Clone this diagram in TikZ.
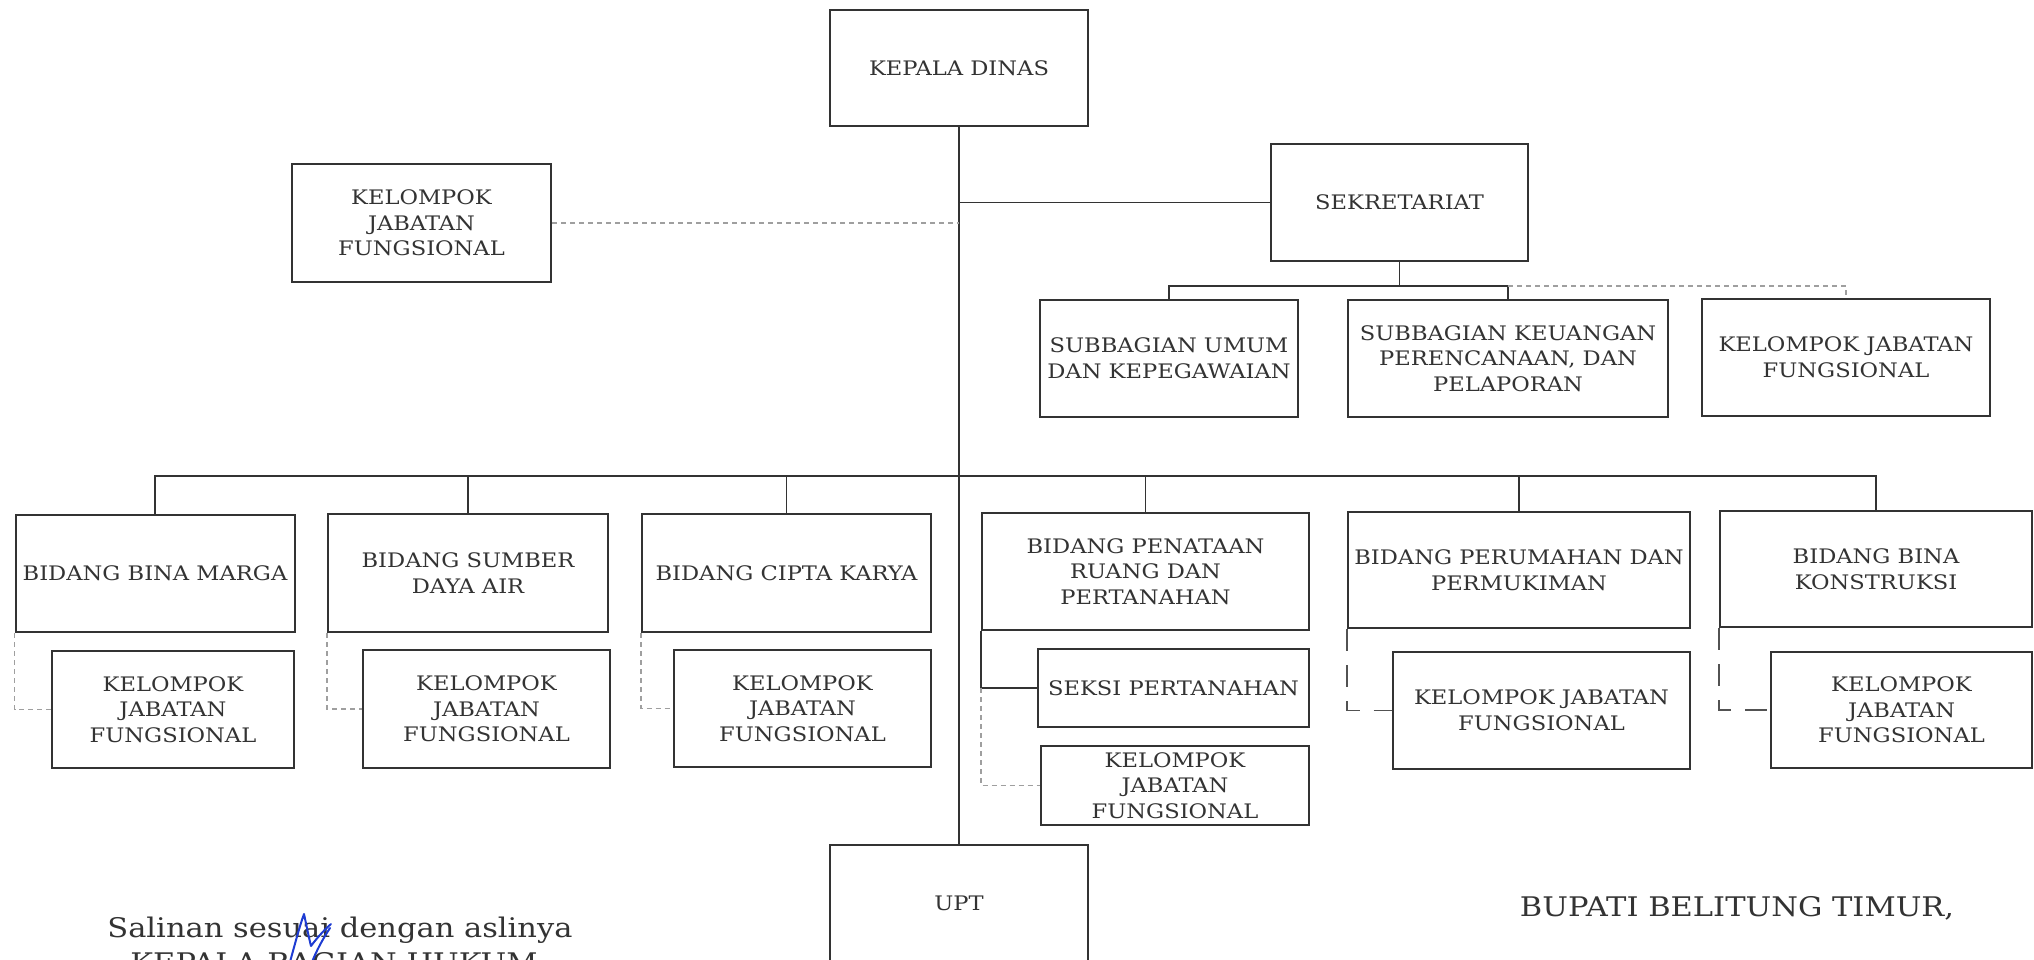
\documentclass[tikz,border=0pt]{standalone}
\usepackage{fontspec}
\setmainfont{DejaVu Serif}[FakeStretch=1.13]
\definecolor{ink}{gray}{0.2}
\definecolor{sigblue}{RGB}{30,60,210}
\begin{document}
\begin{tikzpicture}[x=0.5pt,y=-0.5pt,
  box/.style={draw=ink,line width=1pt,inner sep=0pt,align=center,text=ink,font=\fontsize{10}{12.8}\selectfont},
  lbl/.style={text=ink,inner sep=0pt,font=\fontsize{10}{12.8}\selectfont},
  conn/.style={draw=ink,line width=0.75pt},
  dsh/.style={draw=gray!75,line width=0.6pt,dash pattern=on 2.5pt off 2pt},
  ldsh/.style={draw=ink!85,line width=0.75pt,dash pattern=on 11pt off 7pt},
  big/.style={text=ink,inner sep=0pt,anchor=base,font=\fontsize{13.5}{16}\selectfont},
  sig/.style={draw=sigblue,line width=1pt,line cap=round,line join=round}]
\useasboundingbox (0,0) rectangle (2034,959);
\clip (0,0) rectangle (2034,959);

% top level
\node[box,minimum width=129pt,minimum height=58pt] (kd) at (959,68) {KEPALA DINAS};
\node[box,minimum width=129.5pt,minimum height=59pt] (kjf0) at (421.5,223) {KELOMPOK\\JABATAN\\FUNGSIONAL};
\node[box,minimum width=128.5pt,minimum height=58.5pt] (sek) at (1399.5,202.5) {SEKRETARIAT};

% sekretariat children
\node[box,minimum width=129pt,minimum height=58.5pt] (sbu) at (1169,358.5) {SUBBAGIAN UMUM\\DAN KEPEGAWAIAN};
\node[box,minimum width=160pt,minimum height=58.5pt] (sbk) at (1508,358.5) {SUBBAGIAN KEUANGAN\\PERENCANAAN, DAN\\PELAPORAN};
\node[box,minimum width=144pt,minimum height=58.5pt] (kjfs) at (1846,357.5) {KELOMPOK JABATAN\\FUNGSIONAL};

% bidang row
\node[box,minimum width=139.5pt,minimum height=58.5pt] (bm) at (155,573.5) {BIDANG BINA MARGA};
\node[box,minimum width=140pt,minimum height=59pt] (sda) at (468,573) {BIDANG SUMBER\\DAYA AIR};
\node[box,minimum width=144.5pt,minimum height=59pt] (ck) at (786.5,573) {BIDANG CIPTA KARYA};
\node[box,minimum width=163.5pt,minimum height=58.5pt] (prt) at (1145.5,571.5) {BIDANG PENATAAN\\RUANG DAN\\PERTANAHAN};
\node[box,minimum width=171pt,minimum height=58pt] (prm) at (1519,570) {BIDANG PERUMAHAN DAN\\PERMUKIMAN};
\node[box,minimum width=156pt,minimum height=58pt] (bk) at (1876,569) {BIDANG BINA\\KONSTRUKSI};

% lower row
\node[box,minimum width=121pt,minimum height=58.5pt] (kjf1) at (173,709.5) {KELOMPOK\\JABATAN\\FUNGSIONAL};
\node[box,minimum width=123.5pt,minimum height=59pt] (kjf2) at (486.5,709) {KELOMPOK\\JABATAN\\FUNGSIONAL};
\node[box,minimum width=128.5pt,minimum height=58.5pt] (kjf3) at (802.5,708.5) {KELOMPOK\\JABATAN\\FUNGSIONAL};
\node[box,minimum width=135.5pt,minimum height=39pt] (sp) at (1173.5,688) {SEKSI PERTANAHAN};
\node[box,minimum width=134pt,minimum height=39.5pt] (kjfp) at (1175,785.5) {KELOMPOK\\JABATAN\\FUNGSIONAL};
\node[box,minimum width=148.5pt,minimum height=58.5pt] (kjfm) at (1541.5,710.5) {KELOMPOK JABATAN\\FUNGSIONAL};
\node[box,minimum width=130.5pt,minimum height=58pt] (kjfk) at (1901.5,710) {KELOMPOK\\JABATAN\\FUNGSIONAL};

% UPT
\node[box,minimum width=129pt,minimum height=70pt,anchor=north] (upt) at (959,844) {};
\node[lbl] (uptl) at (959,903) {UPT};

% connectors
\draw[conn] (kd.south) -- (upt.north);
\draw[dsh] (kjf0.east) -- (kjf0.east -| kd.south);
\draw[conn] (sek.west) -- (sek.west -| kd.south);
\draw[conn] (sek.south) -- ++(0,24) coordinate (sj);
\draw[conn] (sbu.north) |- (sj) -| (sbk.north);
\draw[dsh] (sbk.north |- sj) -| (kjfs.north);

\coordinate (busy) at (959,476);
\draw[conn] (bm.north) |- (busy) -| (bk.north);
\foreach \n in {sda,ck,prt,prm} \draw[conn] (\n.north) -- (\n.north |- busy);

\draw[dsh] (bm.south west) |- (kjf1.west);
\draw[dsh] (sda.south west) |- (kjf2.west);
\draw[dsh] (ck.south west) |- (kjf3.west);
\draw[conn] (prt.south west) |- (sp.west);
\draw[dsh] (prt.south west |- sp.west) |- (kjfp.west);
\draw[ldsh] (prm.south west) |- (kjfm.west);
\draw[ldsh] (bk.south west) |- (kjfk.west);

% footer texts
\node[big] (sal) at (340,937) {Salinan sesuai dengan aslinya};
\node[big] (kbh) at (334,972) {KEPALA BAGIAN HUKUM};
\node[big] (bup) at (1737,916) {BUPATI BELITUNG TIMUR,};

% handwritten mark
\draw[sig] (290,962) .. controls (296,940) and (300,925) .. (304,914)
  .. controls (307,928) and (309,938) .. (311,946)
  .. controls (317,938) and (324,930) .. (331,924);
\draw[sig] (330,928) .. controls (322,940) and (316,952) .. (312,962);
\end{tikzpicture}
\end{document}
